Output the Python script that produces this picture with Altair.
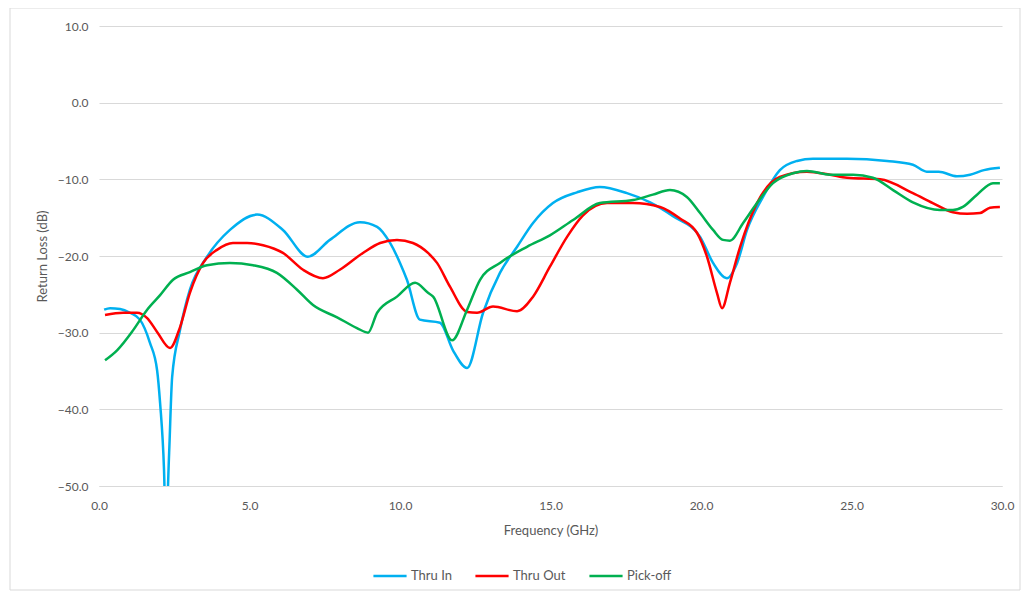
import altair as alt
import pandas as pd

# Thru In
thru_in_f = [0.17, 0.37, 0.70, 1.03, 1.36, 1.69, 1.93, 2.03, 2.16, 2.22, 2.33, 2.43, 2.69, 3.02, 3.59, 4.35,
             5.25, 6.11, 6.94, 7.67, 8.67, 9.24, 9.67, 10.0, 10.23, 10.66, 11.33, 11.76, 12.23, 12.76, 13.32,
             13.89, 14.42, 15.08, 15.88, 16.64, 17.54, 18.31, 19.07, 19.97, 20.40, 20.86, 21.2, 21.53, 22.06,
             22.62, 23.19, 23.72, 24.85, 26.18, 27.04, 27.5, 27.9, 28.5, 28.94, 29.4, 29.93]
thru_in_db = [-27.0, -26.8, -26.9, -27.4, -28.3, -31.3, -34.9, -39.2, -47.9, -56.0, -45.7, -35.8, -29.7, -24.4,
              -20.1, -16.6, -14.6, -16.6, -20.1, -17.9, -15.6, -16.2, -18.3, -20.9, -23.1, -28.3, -28.7, -32.3,
              -34.6, -27.4, -22.2, -18.8, -15.7, -13.1, -11.7, -11.0, -11.8, -13.0, -14.8, -17.5, -20.9, -22.9,
              -20.9, -16.6, -12.3, -8.8, -7.6, -7.3, -7.3, -7.6, -8.1, -9.0, -9.0, -9.6, -9.4, -8.8, -8.5]

# Thru Out
thru_out_f = [0.2, 0.8, 1.26, 1.6, 1.93, 2.36, 2.69, 3.02, 3.46, 3.92, 4.45, 4.92, 5.45, 6.11, 6.78, 7.44, 8.0,
              8.77, 9.34, 9.90, 10.43, 10.93, 11.23, 11.66, 12.23, 12.56, 13.09, 13.89, 14.42, 14.98, 15.55,
              16.08, 16.88, 17.74, 18.64, 19.3, 19.87, 20.2, 20.53, 20.7, 20.96, 21.3, 21.86, 22.62, 23.52,
              24.29, 24.85, 25.95, 27.04, 27.7, 28.37, 28.84, 29.27, 29.6, 29.93]
thru_out_db = [-27.7, -27.4, -27.4, -28.1, -29.9, -32.0, -29.3, -24.8, -20.9, -19.2, -18.3, -18.3, -18.6, -19.6,
               -21.8, -22.9, -21.8, -19.6, -18.3, -17.9, -18.3, -19.6, -20.9, -24.0, -27.3, -27.4, -26.6, -27.2,
               -25.3, -21.4, -17.5, -14.7, -13.1, -13.1, -13.6, -15.1, -17.0, -20.1, -24.8, -26.8, -23.5, -18.8,
               -13.1, -9.7, -9.0, -9.4, -9.8, -10.0, -11.8, -13.1, -14.3, -14.5, -14.4, -13.7, -13.6]

# Pick-off
pick_f = [0.2, 0.6, 1.13, 1.6, 2.03, 2.46, 3.02, 3.59, 4.35, 5.12, 5.91, 6.58, 7.11, 7.91, 8.57, 8.94, 9.24,
          9.90, 10.5, 10.93, 11.1, 11.73, 12.23, 12.66, 13.32, 14.22, 14.98, 15.75, 16.64, 17.74, 18.4, 18.97,
          19.53, 19.97, 20.4, 20.73, 20.96, 21.4, 21.86, 22.39, 23.06, 23.52, 24.29, 25.05, 25.71, 26.38, 27.04,
          27.94, 28.37, 28.7, 29.17, 29.7, 29.93]
pick_db = [-33.6, -32.3, -29.7, -27.0, -25.1, -23.1, -22.1, -21.2, -20.9, -21.2, -22.2, -24.4, -26.4, -28.0,
           -29.4, -30.0, -27.4, -25.3, -23.5, -24.8, -25.3, -31.0, -27.0, -23.1, -20.9, -18.8, -17.3, -15.3,
           -13.1, -12.7, -12.0, -11.4, -12.3, -14.4, -16.6, -17.9, -18.0, -15.7, -13.1, -10.5, -9.2, -8.9, -9.4,
           -9.4, -9.8, -11.4, -13.0, -14.0, -14.0, -13.6, -12.0, -10.5, -10.5]

series_names = ["Thru In", "Thru Out", "Pick-off"]
series_colors = ["#00b0f0", "#ff0000", "#00b050"]
x_ticks = [0, 5, 10, 15, 20, 25, 30]
y_ticks = [-50, -40, -30, -20, -10, 0, 10]

rows = []
for name, fs, ds in zip(series_names, [thru_in_f, thru_out_f, pick_f], [thru_in_db, thru_out_db, pick_db]):
    for i, (f, d) in enumerate(zip(fs, ds)):
        rows.append({"series": name, "f": f, "db": d, "idx": i})
df = pd.DataFrame(rows)

FONT = "Lato"
GREY = "#595959"

border = alt.Chart(pd.DataFrame({"a": [0]})).mark_rect(
    fill=None, stroke="#d9d9d9", strokeWidth=1
).encode(
    x=alt.value(-89), x2=alt.value(921), y=alt.value(-18), y2=alt.value(564)
)

lines = alt.Chart(df).mark_line(strokeWidth=2.5, interpolate="monotone", clip=True).encode(
    x=alt.X("f:Q", scale=alt.Scale(domain=[0, 30], nice=False),
            axis=alt.Axis(values=x_ticks, format=".1f", title="Frequency (GHz)", grid=False,
                          domainColor="#d9d9d9", domainWidth=1, ticks=False, labelFlush=False,
                          labelPadding=14, titlePadding=13)),
    y=alt.Y("db:Q", scale=alt.Scale(domain=[-50, 10], nice=False),
            axis=alt.Axis(values=y_ticks, format=".1f", title="Return Loss (dB)", grid=True,
                          gridColor="#d9d9d9", gridWidth=1, domain=False, ticks=False,
                          labelFlush=False, labelPadding=11, titlePadding=8)),
    color=alt.Color("series:N", scale=alt.Scale(domain=series_names, range=series_colors),
                    legend=alt.Legend(title=None, orient="none", direction="horizontal",
                                      legendX=273, legendY=532, symbolType="stroke",
                                      symbolSize=1100, symbolStrokeWidth=2.5, labelOffset=3,
                                      columnPadding=18, labelFontSize=13, labelColor=GREY,
                                      labelFont=FONT)),
    order="idx:Q",
)

chart = alt.layer(border, lines).properties(
    width=903, height=460,
    autosize=alt.AutoSizeParams(type="none"),
    padding={"left": 91, "top": 18, "right": 20, "bottom": 106},
).configure_view(stroke=None).configure_axis(
    labelFont=FONT, titleFont=FONT, labelFontSize=12, titleFontSize=13,
    labelColor=GREY, titleColor=GREY, titleFontWeight="normal"
)

chart.save("out.html", embed_options={"renderer": "svg", "actions": False})
